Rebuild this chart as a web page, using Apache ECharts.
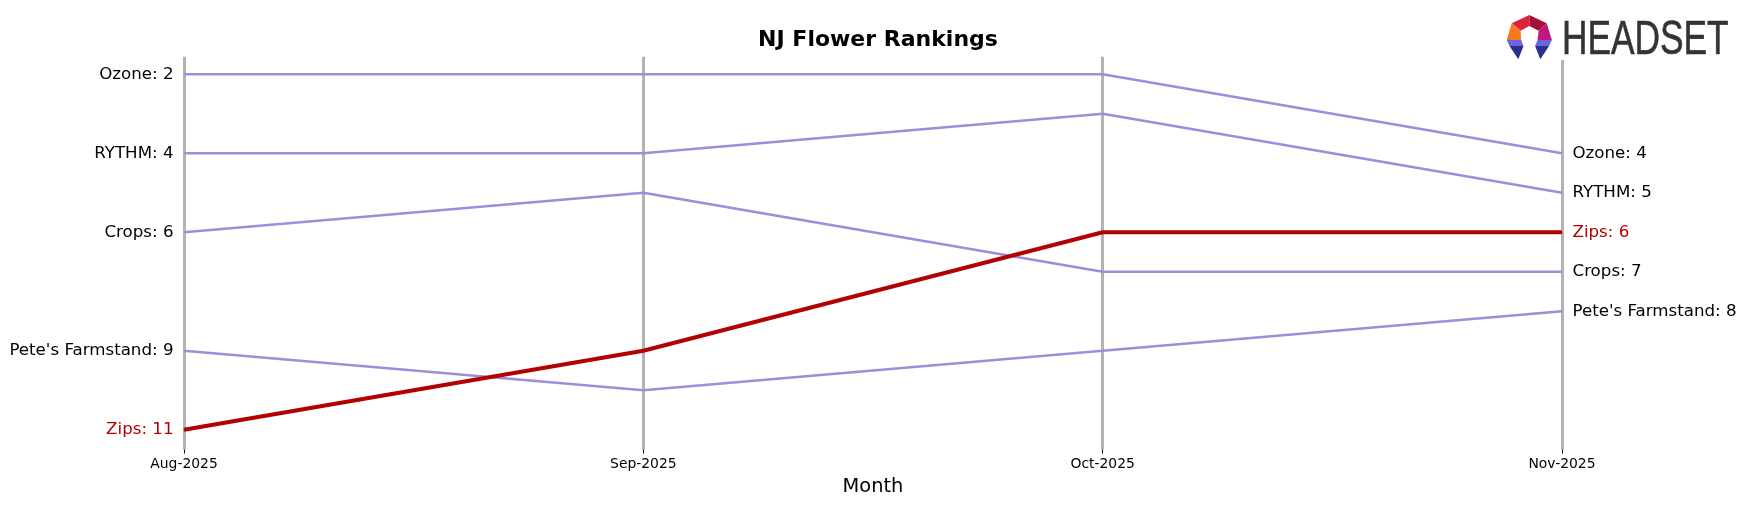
<!DOCTYPE html>
<html>
<head>
<meta charset="utf-8">
<script src="https://cdn.jsdelivr.net/npm/echarts@6/dist/echarts.min.js"></script>
<style>
html,body{margin:0;padding:0;background:#fff;}
#chart{width:1746px;height:507px;}
</style>
</head>
<body>
<div id="chart"></div>
<script>
const months = ['Aug-2025', 'Sep-2025', 'Oct-2025', 'Nov-2025'];
const brands = ['Ozone', 'RYTHM', 'Crops', "Pete's Farmstand", 'Zips'];
const ozone = [2, 2, 2, 4];
const rythm = [4, 4, 3, 5];
const crops = [6, 5, 7, 7];
const petes = [9, 10, 9, 8];
const zips = [11, 9, 6, 6];
const highlight = 'Zips';

const rankSeries = [ozone, rythm, crops, petes, zips];
const PURPLE = '#9b8edb';
const RED = '#b30000';
const LABEL_FONT = 'DejaVu Sans';

function makeSeries(name, values) {
  const hi = name === highlight;
  const color = hi ? RED : PURPLE;
  const txt = hi ? RED : '#000';
  const last = values.length - 1;
  return {
    type: 'line',
    name: name,
    z: hi ? 5 : 3,
    symbol: 'circle',
    symbolSize: 1,
    itemStyle: { color: color },
    lineStyle: { color: color, width: hi ? 4 : 2.5 },
    emphasis: { disabled: true },
    animation: false,
    data: values.map(function (v, i) {
      const item = { value: v };
      if (i === 0 || i === last) {
        item.label = {
          show: true,
          position: i === 0 ? 'left' : 'right',
          distance: 10,
          formatter: name + ': ' + v,
          color: txt,
          fontFamily: LABEL_FONT,
          fontSize: 16.67
        };
      }
      return item;
    })
  };
}

const chart = echarts.init(document.getElementById('chart'), null, { renderer: 'canvas' });

// Headset logo icon polygons
const logoParts = [
  { pts: [[1529.3, 15], [1511.7, 23.3], [1520.7, 30.7], [1529.3, 26]], c: '#dc2436' },
  { pts: [[1529.3, 15], [1546.7, 23.3], [1538.7, 30.7], [1529.3, 26]], c: '#a3123a' },
  { pts: [[1511.7, 23.3], [1506.7, 40], [1521, 40], [1520.7, 30.7]], c: '#f37a21' },
  { pts: [[1546.7, 23.3], [1551.9, 40], [1537.6, 40], [1538.7, 30.7]], c: '#c0187d' },
  { pts: [[1506.7, 40], [1521, 40], [1523.5, 46], [1509.5, 46]], c: '#6b64dc' },
  { pts: [[1509.5, 46], [1523.5, 46], [1518.3, 59.3]], c: '#2d2f8e' },
  { pts: [[1551.9, 40], [1537.6, 40], [1535.1, 46], [1549.1, 46]], c: '#6b64dc' },
  { pts: [[1549.1, 46], [1535.1, 46], [1540.3, 59.3]], c: '#2d2f8e' }
];
const graphics = [
  { type: 'rect', shape: { x: 1500, y: 8, width: 240, height: 52 }, style: { fill: '#fff' }, z: 50 }
].concat(logoParts.map(function (p) {
  return { type: 'polygon', shape: { points: p.pts }, style: { fill: p.c }, z: 51 };
})).concat([
  {
    type: 'text', x: 1562, y: 40.5, scaleX: 0.735, z: 51,
    style: { text: 'HEADSET', font: '48px "Liberation Sans"', fill: '#333333', stroke: '#333333', lineWidth: 0.6, textVerticalAlign: 'middle', textAlign: 'left' }
  }
]);

chart.setOption({
  backgroundColor: '#ffffff',
  animation: false,
  title: {
    text: 'NJ Flower Rankings',
    left: 873, top: 24, textAlign: 'center',
    textStyle: { fontFamily: LABEL_FONT, fontWeight: 'bold', fontSize: 22, color: '#000' }
  },
  grid: { left: 184, right: 184, top: 56.7, bottom: 57.5 },
  xAxis: {
    type: 'category',
    data: months,
    boundaryGap: false,
    name: 'Month',
    nameLocation: 'middle',
    nameGap: 28,
    nameTextStyle: { fontFamily: LABEL_FONT, fontSize: 19.4, color: '#000' },
    axisLine: { show: false },
    axisTick: { show: true, length: 4, lineStyle: { color: '#000', width: 1 } },
    axisLabel: { fontFamily: LABEL_FONT, fontSize: 13.9, color: '#000', margin: 8 },
    splitLine: { show: true, lineStyle: { color: '#b3b3b3', width: 3 } }
  },
  yAxis: {
    type: 'value',
    min: 1.555, max: 11.5,
    inverse: true,
    show: false,
    splitLine: { show: false }
  },
  graphic: graphics,
  series: brands.map(function (b, i) { return makeSeries(b, rankSeries[i]); })
});
</script>
</body>
</html>
